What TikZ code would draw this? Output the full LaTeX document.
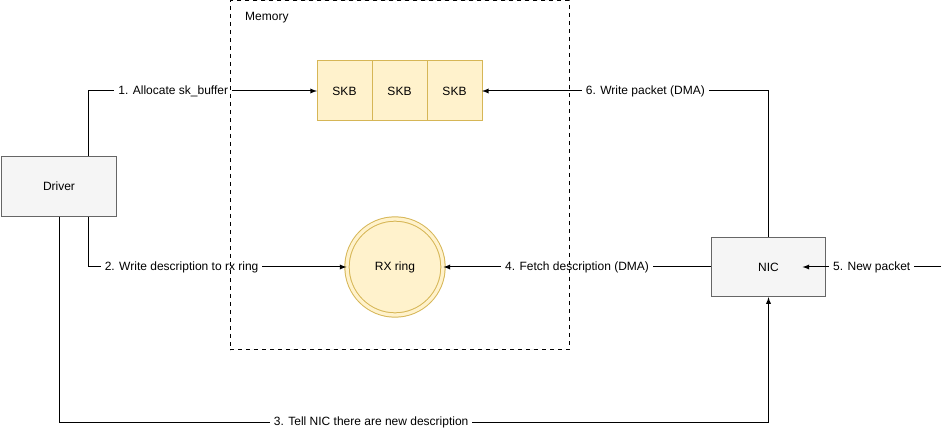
\documentclass[tikz,border=0pt]{standalone}
\usepackage{fontspec}
\setmainfont{Liberation Sans}
\usetikzlibrary{calc,positioning,arrows}

\definecolor{boxfill}{HTML}{F5F5F5}
\definecolor{boxline}{HTML}{666666}
\definecolor{skbfill}{HTML}{FFF2CC}
\definecolor{skbline}{HTML}{D6B656}

\begin{document}
\begin{tikzpicture}[x=0.75pt, y=-0.75pt, >=latex, font=\fontsize{9}{11}\selectfont]
\def \sp {0.75pt}
  \tikzstyle{block} = [draw=boxline, fill=boxfill, rectangle, line width=\sp,
                       minimum height=44.5pt, minimum width=86pt, align=center, text=black]
  \tikzstyle{skb} = [draw=skbline, fill=skbfill, rectangle, line width=\sp,
                     minimum height=45pt, minimum width=41.25pt, inner sep=0, outer sep=0]
  \tikzstyle{ring} = [draw=skbline, fill=skbfill, circle, line width=\sp, double=skbfill,
                      double distance=2.5pt, minimum size=72pt, inner sep=0]
  \tikzstyle{memorybox} = [draw=black, dashed, line width=\sp, rectangle,
                           minimum width=254.25pt, minimum height=261.75pt]
  \tikzstyle{lines} = [black, line width=\sp, ->]
  \tikzstyle{tag} = [fill=white, inner xsep=3pt, inner ysep=1pt, text=black]

\useasboundingbox (0,0) rectangle (951,431);

%%%%%%%%%%%%%%%%%%%%%%%%%%%%%%%%%%%%%%%%%%%%%%%%%%%%%%%%%%%%%%%%%%%%%%%%%%%%%%%

\coordinate (driver_pose) at (59, 186.5);
\coordinate (nic_pose) at (768.5, 267);
\coordinate (skb_pose) at (344.5, 91);
\coordinate (ring_pose) at (395, 267);
\coordinate (memory_pose) at (399.5, 175.5);
\coordinate (packet_in) at (941, 267);

%%%%%%%%%%%%%%%%%%%%%%%%%%%%%%%%%%%%%%%%%%%%%%%%%%%%%%%%%%%%%%%%%%%%%%%%%%%%%%%

\node[block] (driver) at (driver_pose) {Driver};
\node[block] (nic) at (nic_pose) {NIC};
\node[skb] (skb1) at (skb_pose) {SKB};
\node[skb, right=0pt of skb1] (skb2) {SKB};
\node[skb, right=0pt of skb2] (skb3) {SKB};
\node[ring] (ring) at (ring_pose) {RX ring};

%%%%%%%%%%%%%%%%%%%%%%%%%%%%%%%%%%%%%%%%%%%%%%%%%%%%%%%%%%%%%%%%%%%%%%%%%%%%%%%

\draw[lines] ($(driver.north east)+(-28,0)$) |- node[tag, pos=0.685] {1. Allocate sk\_buffer} (skb1.west);
\draw[lines] ($(driver.south east)+(-28,0)$) |- node[tag, pos=0.68] {2. Write description to rx ring} (ring.west);
\draw[lines] (driver.south) -- ++(0,206) -| node[tag, pos=0.22] {3. Tell NIC there are new description} (nic.south);
\draw[lines] (nic.west) -- node[tag, pos=0.5] {4. Fetch description (DMA)} (ring.east);
\draw[lines] (packet_in) -- node[tag, pos=0.5] {5. New packet} ($(nic.center)+(34,0)$);
\draw[lines] (nic.north) |- node[tag, pos=0.715] {6. Write packet (DMA)} (skb3.east);

%%%%%%%%%%%%%%%%%%%%%%%%%%%%%%%%%%%%%%%%%%%%%%%%%%%%%%%%%%%%%%%%%%%%%%%%%%%%%%%

\node[memorybox] (memory) at (memory_pose) {};
\node[anchor=west] (memory_label) at ($(memory.north west)+(11,17)$) {Memory};

\end{tikzpicture}
\end{document}
